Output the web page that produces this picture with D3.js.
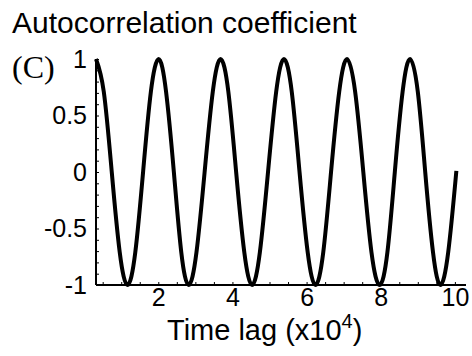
<!DOCTYPE html>
<html lang="en">
<head>
<meta charset="UTF-8">
<title>Autocorrelation coefficient</title>
<script src="https://cdn.jsdelivr.net/npm/d3@7"></script>
<style>
    html, body { margin: 0; padding: 0; background: white; }
    text { font-family: "Liberation Sans", Arial, Helvetica, sans-serif; fill: black; }
    .panel { font-family: "Liberation Serif", "Times New Roman", serif; }
</style>
</head>
<body>
<div id="chart"></div>
<script>
    // values (time lag in units of 10^4)
    const lag = [
        0.32, 0.53, 0.745, 0.96, 1.17, 1.38, 1.59, 1.80, 2.01,
        2.21, 2.42, 2.62, 2.82, 3.03, 3.25, 3.47, 3.68,
        3.89, 4.10, 4.32, 4.53, 4.74, 4.96, 5.18, 5.39,
        5.60, 5.81, 6.03, 6.24, 6.45, 6.66, 6.88, 7.09,
        7.31, 7.53, 7.75, 7.97, 8.18, 8.38, 8.59, 8.79,
        9.00, 9.20, 9.41, 9.61, 9.82, 10.04
    ];
    const coef = [
        1, 0.71, 0, -0.71, -1, -0.71, 0, 0.71, 1,
        0.71, 0, -0.71, -1, -0.71, 0, 0.71, 1,
        0.71, 0, -0.71, -1, -0.71, 0, 0.71, 1,
        0.71, 0, -0.71, -1, -0.71, 0, 0.71, 1,
        0.71, 0, -0.71, -1, -0.71, 0, 0.71, 1,
        0.71, 0, -0.71, -1, -0.71, 0.01
    ];
    const xTicks = [2, 4, 6, 8, 10];
    const yTicks = [-1, -0.5, 0, 0.5, 1];
    const yTickLabels = ["-1", "-0.5", "0", "0.5", "1"];

    const width = 472, height = 356;

    const x = d3.scaleLinear().domain([0.32, 10.3]).range([96, 466]);
    const y = d3.scaleLinear().domain([-1, 1]).range([285, 59]);

    const svg = d3.select("#chart").append("svg")
        .attr("width", width)
        .attr("height", height);

    // titles
    svg.append("text")
        .attr("x", 12).attr("y", 33)
        .attr("font-size", 30)
        .text("Autocorrelation coefficient");

    svg.append("text")
        .attr("class", "panel")
        .attr("x", 12).attr("y", 78)
        .attr("font-size", 32)
        .text("(C)");

    // axes: minor ticks point inward
    const xAxis = svg.append("g")
        .attr("transform", `translate(0,${y(-1)})`)
        .call(d3.axisBottom(x)
            .tickValues(d3.range(0.5, 10.3, 0.5))
            .tickSize(-3)
            .tickFormat(""));
    xAxis.select(".domain").attr("stroke-width", 2).attr("d", `M${x.range()[0]},0H${x.range()[1]}`);

    svg.append("g")
        .attr("transform", `translate(0,${y(-1)})`)
        .call(d3.axisBottom(x).tickValues(xTicks).tickSize(0).tickPadding(3))
        .call(g => g.select(".domain").remove())
        .selectAll("text")
        .attr("font-size", 25)
        .attr("font-family", "Liberation Sans, Arial, sans-serif");

    const yAxis = svg.append("g")
        .attr("transform", `translate(${x(0.32)},0)`)
        .call(d3.axisLeft(y)
            .tickValues(d3.range(-1, 1.001, 0.1))
            .tickSize(-3)
            .tickFormat(""));
    yAxis.select(".domain").attr("stroke-width", 2).attr("d", `M0,${y.range()[0]}V${y.range()[1]}`);

    svg.append("g")
        .attr("transform", `translate(${x(0.32) - 6},0)`)
        .call(d3.axisLeft(y).tickValues(yTicks).tickSize(0)
            .tickFormat((d, i) => yTickLabels[i]))
        .call(g => g.select(".domain").remove())
        .selectAll("text")
        .attr("font-size", 25)
        .attr("font-family", "Liberation Sans, Arial, sans-serif");

    // curve
    const line = d3.line()
        .x((d, i) => x(lag[i]))
        .y(d => y(d))
        .curve(d3.curveNatural);

    svg.append("path")
        .datum(coef)
        .attr("fill", "none")
        .attr("stroke", "black")
        .attr("stroke-width", 4)
        .attr("stroke-linejoin", "round")
        .attr("d", line);

    svg.append("text")
        .attr("x", 167).attr("y", 340)
        .attr("font-size", 29)
        .html('Time lag (x10<tspan dy="-12" font-size="20">4</tspan><tspan dy="12">)</tspan>');
</script>
</body>
</html>
